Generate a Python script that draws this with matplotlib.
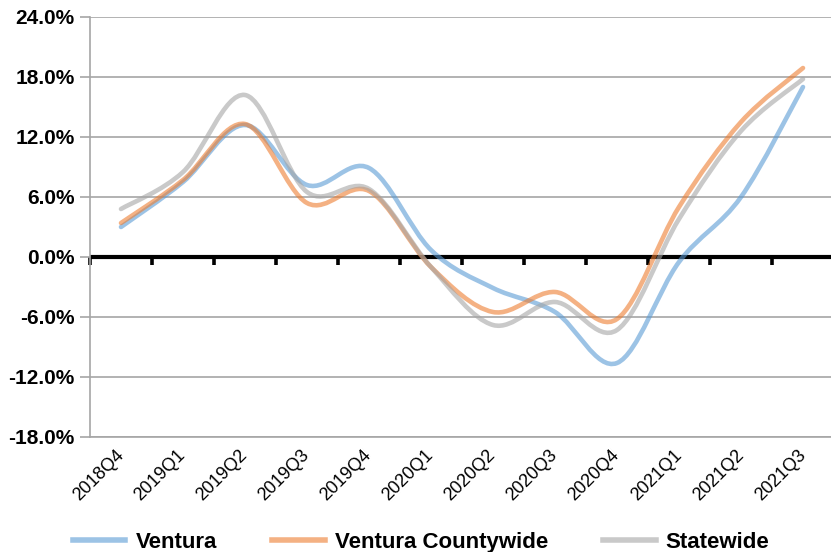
import matplotlib
matplotlib.use("Agg")
import matplotlib.pyplot as plt
from matplotlib.path import Path
from matplotlib.patches import PathPatch
from matplotlib.lines import Line2D
from matplotlib.ticker import FuncFormatter
import numpy as np

quarters = ["2018Q4", "2019Q1", "2019Q2", "2019Q3", "2019Q4", "2020Q1",
            "2020Q2", "2020Q3", "2020Q4", "2021Q1", "2021Q2", "2021Q3"]
ventura = [3.0, 7.5, 13.2, 7.2, 8.9, 0.7, -3.1, -5.5, -10.6, -0.5, 6.0, 17.0]
countywide = [3.4, 7.7, 13.3, 5.4, 6.6, -1.0, -5.5, -3.5, -6.2, 5.0, 13.5, 18.9]
statewide = [4.8, 8.5, 16.2, 6.5, 6.8, -1.0, -6.8, -4.5, -7.3, 3.8, 12.6, 17.8]

series = [("Ventura", ventura, "#5B9BD5"),
          ("Ventura Countywide", countywide, "#ED7D31"),
          ("Statewide", statewide, "#A5A5A5")]

FONT = ["Liberation Sans Narrow", "Liberation Sans", "DejaVu Sans"]


def smooth_path(y):
    # excel style smoothed line: cubic bezier through every point
    x = np.arange(len(y), dtype=float)
    y = np.asarray(y, dtype=float)
    pts = np.column_stack([x, y])
    verts = [pts[0]]
    codes = [Path.MOVETO]
    n = len(pts)
    for i in range(n - 1):
        p0 = pts[max(i - 1, 0)]
        p1 = pts[i]
        p2 = pts[i + 1]
        p3 = pts[min(i + 2, n - 1)]
        c1 = p1 + (p2 - p0) / 6.0
        c2 = p2 - (p3 - p1) / 6.0
        verts += [c1, c2, p2]
        codes += [Path.CURVE4] * 3
    return Path(verts, codes)


fig = plt.figure(figsize=(8.31, 5.52), dpi=100)
ax = fig.add_axes([90 / 831, 1 - 437 / 552, 744 / 831, 420 / 552])

ymin, ymax = -18, 24
ax.set_xlim(-0.5, len(quarters) - 0.5)
ax.set_ylim(ymin, ymax)
ax.set_yticks(np.arange(ymin, ymax + 1, 6))
ax.yaxis.set_major_formatter(FuncFormatter(lambda v, p: f"{v:.1f}%"))
ax.grid(axis="y", color="#a6a6a6", lw=1.2)
ax.set_axisbelow(True)

for s in ["top", "right"]:
    ax.spines[s].set_visible(False)
ax.spines["left"].set_color("#a6a6a6")
ax.spines["left"].set_linewidth(1.2)
ax.spines["bottom"].set_color("#a6a6a6")
ax.spines["bottom"].set_linewidth(1.2)

ax.tick_params(axis="y", length=7, width=1.2, color="#a6a6a6", pad=4)
for lab in ax.get_yticklabels():
    lab.set_fontfamily(FONT)
    lab.set_fontweight("bold")
    lab.set_fontsize(15)

ax.set_xticks(range(len(quarters)))
ax.set_xticklabels(quarters, rotation=45, ha="right", va="center",
                   rotation_mode="anchor", fontsize=13, family=FONT)
ax.tick_params(axis="x", length=0, pad=11)

# zero axis: thick black line plus tick marks between categories
ax.axhline(0, color="black", lw=3.0, zorder=2)
zero_pos = (0 - ymin) / (ymax - ymin)
sec = ax.secondary_xaxis(zero_pos)
sec.set_xticks(np.arange(-0.5, len(quarters), 1.0))
sec.set_xticklabels([])
sec.spines["bottom"].set_visible(False)
sec.tick_params(axis="x", length=6, width=2.6, color="black", direction="out")

handles = []
for name, vals, col in series:
    patch = PathPatch(smooth_path(vals), fill=False, edgecolor=col, lw=3.3,
                      alpha=0.6, capstyle="round", joinstyle="round", zorder=3)
    ax.add_patch(patch)
    handles.append(Line2D([], [], color=col, lw=4, alpha=0.6, label=name))

fig.legend(handles=handles, loc="center", bbox_to_anchor=(0.507, 0.018),
           ncol=3, frameon=False, handlelength=2.35, handletextpad=0.45,
           columnspacing=2.5, prop={"family": FONT, "weight": "bold", "size": 16})

fig.savefig("out.png", dpi=100)
